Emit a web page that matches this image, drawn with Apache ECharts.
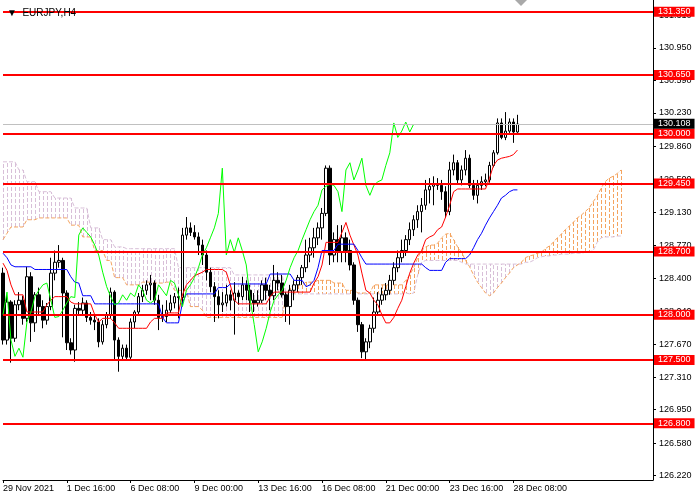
<!DOCTYPE html>
<html>
<head>
<meta charset="utf-8">
<script src="https://cdn.jsdelivr.net/npm/echarts@6/dist/echarts.min.js"></script>
<style>
  html, body {margin: 0; padding: 0; background: #fff;}
  #chart {width: 700px; height: 500px;}
</style>
</head>
<body>
<div id="chart"></div>
<script>
// EURJPY H4, 29 Nov - 28 Dec 2021, one slot = one 4h bar
var tickLabels = ['29 Nov 2021', '1 Dec 16:00', '6 Dec 08:00', '9 Dec 00:00', '13 Dec 16:00',
  '16 Dec 08:00', '21 Dec 00:00', '23 Dec 16:00', '28 Dec 08:00'];
var barsPerTick = 16;
var slotCount = 164;

var priceTicks = [126.22, 126.58, 126.95, 127.31, 127.67, 128.04, 128.40, 128.77, 129.13,
  129.50, 129.86, 130.23, 130.59, 130.95, 131.31];
var levels = [131.35, 130.65, 130.00, 129.45, 128.70, 128.00, 127.50, 126.80];
var lastPrice = 130.108;
var priceMin = 126.173, priceMax = 131.479;

var open = [128.46,127.72,128.14,127.74,128.11,128.16,127.96,128.42,127.91,128.22,
  128.09,127.94,128.09,128.46,128.58,128.60,128.24,127.69,127.61,128.07,
  128.05,128.13,127.97,127.94,127.92,127.70,127.89,128.00,128.25,127.72,
  127.54,127.63,127.53,127.92,128.03,128.20,128.27,128.33,128.35,128.16,
  127.97,127.98,128.05,128.13,128.20,128.19,128.88,128.96,128.91,128.86,
  128.77,128.66,128.47,128.31,128.20,128.11,128.13,128.22,128.16,128.24,
  128.20,128.33,128.27,128.16,128.13,128.16,128.33,128.27,128.21,128.38,
  128.35,128.22,128.09,128.27,128.33,128.41,128.52,128.66,128.74,128.85,
  128.96,129.12,129.62,128.66,128.83,128.69,128.85,128.71,128.55,128.16,
  127.89,127.59,127.70,127.85,128.03,128.16,128.22,128.27,128.38,128.52,
  128.63,128.71,128.83,128.94,129.05,129.14,129.21,129.38,129.42,129.44,
  129.43,129.36,129.14,129.60,129.68,129.49,129.60,129.73,129.43,129.32,
  129.43,129.47,129.49,129.65,129.79,130.12,129.96,130.03,130.13,130.02];
var high = [128.52,128.22,128.16,128.16,128.25,128.21,128.53,128.47,128.25,128.30,
  128.16,128.13,128.63,128.71,128.77,128.63,128.27,127.74,128.11,128.14,
  128.19,128.16,128.03,128.00,127.96,127.94,128.03,128.30,128.27,127.75,
  127.67,127.67,127.96,128.05,128.24,128.33,128.38,128.44,128.38,128.22,
  128.11,128.16,128.22,128.24,128.30,128.96,129.08,129.02,128.99,128.91,
  128.83,128.71,128.52,128.36,128.27,128.25,128.33,128.27,128.36,128.27,
  128.42,128.38,128.33,128.24,128.27,128.38,128.41,128.33,128.55,128.47,
  128.44,128.25,128.33,128.38,128.44,128.55,128.83,128.85,128.96,129.02,
  129.18,129.65,129.65,128.91,128.99,128.99,128.91,128.83,128.58,128.19,
  127.92,127.74,127.89,128.19,128.25,128.30,128.35,128.44,128.58,128.71,
  128.83,128.88,129.02,129.10,129.21,129.29,129.49,129.51,129.53,129.51,
  129.49,129.42,129.69,129.77,129.71,129.65,129.82,129.77,129.49,129.49,
  129.53,129.56,129.69,129.82,130.17,130.17,130.24,130.17,130.17,130.21];
var low = [127.67,127.67,127.47,127.70,128.05,127.89,127.92,127.70,127.81,128.00,
  127.85,127.89,128.05,128.38,128.52,127.75,127.61,127.56,127.48,128.00,
  127.99,127.92,127.89,127.83,127.64,127.67,127.85,127.96,127.50,127.37,
  127.50,127.50,127.50,127.85,128.00,128.14,128.22,128.16,128.11,127.83,
  127.92,127.92,128.02,128.07,127.96,128.11,128.83,128.87,128.83,128.66,
  128.55,128.38,128.25,127.92,127.96,128.03,128.09,128.05,127.78,128.11,
  128.16,128.16,128.03,128.03,128.09,128.13,128.16,128.05,128.16,128.27,
  128.19,127.92,127.89,128.16,128.25,128.33,128.47,128.58,128.63,128.77,
  128.83,129.09,128.55,128.58,128.58,128.58,128.58,128.49,128.11,127.81,
  127.52,127.50,127.63,127.80,128.00,128.11,128.16,128.22,128.33,128.47,
  128.58,128.65,128.77,128.87,128.96,128.91,129.16,129.23,129.21,129.38,
  129.27,129.07,129.10,129.54,129.44,129.43,129.54,129.40,129.27,129.23,
  129.38,129.42,129.46,129.63,129.77,129.94,129.93,130.01,129.90,130.01];
var close = [127.72,128.14,127.74,128.11,128.16,127.96,128.42,127.91,128.22,128.09,
  127.94,128.09,128.46,128.58,128.60,128.24,127.69,127.61,128.07,128.05,
  128.13,127.97,127.94,127.92,127.70,127.89,128.00,128.25,127.72,127.54,
  127.63,127.53,127.92,128.03,128.20,128.27,128.33,128.35,128.16,127.97,
  127.98,128.05,128.13,128.20,128.19,128.88,128.96,128.91,128.86,128.77,
  128.66,128.47,128.31,128.20,128.11,128.13,128.22,128.16,128.24,128.20,
  128.33,128.27,128.16,128.13,128.16,128.33,128.27,128.21,128.38,128.35,
  128.22,128.09,128.27,128.33,128.41,128.52,128.66,128.74,128.85,128.96,
  129.12,129.62,128.66,128.83,128.69,128.85,128.71,128.55,128.16,127.89,
  127.59,127.70,127.85,128.03,128.16,128.22,128.27,128.38,128.52,128.63,
  128.71,128.83,128.94,129.05,129.14,129.21,129.38,129.42,129.44,129.43,
  129.36,129.14,129.60,129.68,129.49,129.60,129.73,129.43,129.32,129.43,
  129.47,129.49,129.65,129.79,130.12,129.96,130.03,130.13,130.02,130.108];

// Ichimoku
var tenkan = [128.57,128.49,128.33,128.22,128.22,128.22,128.03,128.03,128.03,128.03,
  128.03,128.11,128.16,128.20,128.20,128.20,128.20,128.14,128.12,128.12,
  128.12,128.12,128.12,128.00,127.92,127.96,127.96,127.96,127.91,127.85,
  127.85,127.85,127.85,127.85,127.85,127.85,127.85,127.92,127.96,127.96,
  127.96,128.02,128.02,128.02,128.02,128.22,128.33,128.38,128.43,128.45,
  128.47,128.50,128.50,128.50,128.50,128.50,128.47,128.33,128.16,128.12,
  128.12,128.12,128.12,128.12,128.12,128.12,128.12,128.20,128.25,128.25,
  128.25,128.25,128.25,128.25,128.25,128.25,128.25,128.25,128.35,128.42,
  128.55,128.80,128.80,128.80,128.80,128.91,129.02,128.88,128.77,128.66,
  128.46,128.27,128.24,128.16,128.11,128.00,127.91,127.91,127.97,128.07,
  128.16,128.31,128.46,128.57,128.66,128.71,128.83,128.86,128.88,128.94,
  128.97,129.08,129.21,129.36,129.39,129.39,129.39,129.39,129.39,129.39,
  129.39,129.39,129.51,129.65,129.71,129.73,129.74,129.75,129.77,129.82];
var kijun = [128.68,128.63,128.55,128.53,128.53,128.53,128.53,128.53,128.50,128.50,
  128.50,128.50,128.50,128.50,128.50,128.50,128.50,128.42,128.36,128.35,
  128.21,128.21,128.21,128.12,128.12,128.12,128.12,128.12,128.12,128.12,
  128.12,128.12,128.12,128.12,128.12,128.12,128.12,128.12,128.12,128.12,
  127.97,127.91,127.91,127.91,127.91,128.13,128.23,128.23,128.23,128.23,
  128.23,128.23,128.23,128.23,128.30,128.30,128.30,128.34,128.34,128.34,
  128.34,128.34,128.34,128.34,128.34,128.34,128.34,128.45,128.45,128.45,
  128.45,128.45,128.45,128.38,128.38,128.38,128.31,128.33,128.38,128.52,
  128.71,128.71,128.71,128.71,128.78,128.78,128.78,128.78,128.78,128.71,
  128.63,128.56,128.56,128.56,128.56,128.56,128.56,128.56,128.56,128.56,
  128.56,128.56,128.56,128.56,128.56,128.56,128.52,128.49,128.49,128.49,
  128.49,128.58,128.62,128.62,128.62,128.62,128.62,128.66,128.74,128.83,
  128.90,128.99,129.07,129.14,129.21,129.29,129.32,129.36,129.38,129.38];
var spanA = [128.83,128.90,128.97,128.97,128.97,128.97,129.05,129.05,129.05,129.07,
  129.07,129.07,129.07,129.07,129.07,129.07,129.07,128.99,128.99,128.99,
  128.86,128.86,128.86,128.71,128.71,128.71,128.60,128.60,128.41,128.41,
  128.41,128.33,128.33,128.33,128.33,128.36,128.36,128.36,128.35,128.35,
  128.35,128.36,128.36,128.27,128.27,128.27,128.27,128.09,128.09,128.09,
  128.05,127.97,127.97,127.97,127.97,127.97,127.97,127.97,127.97,127.97,
  127.97,127.97,127.97,127.97,127.97,127.97,127.97,127.97,127.97,127.97,
  127.97,128.22,128.30,128.33,128.33,128.33,128.36,128.36,128.36,128.38,
  128.38,128.38,128.38,128.35,128.35,128.35,128.27,128.27,128.27,128.24,
  128.24,128.24,128.24,128.33,128.33,128.33,128.33,128.33,128.33,128.33,
  128.33,128.38,128.44,128.52,128.63,128.71,128.75,128.77,128.77,128.79,
  128.85,128.89,128.90,128.83,128.75,128.69,128.60,128.53,128.44,128.36,
  128.30,128.24,128.21,128.24,128.30,128.35,128.41,128.46,128.52,128.55,
  128.58,128.63,128.65,128.66,128.68,128.69,128.73,128.76,128.80,128.85,
  128.89,128.94,128.98,129.02,129.07,129.10,129.14,129.18,129.25,129.31,
  129.40,129.47,129.51,129.53,129.56,129.60];
var spanB = [129.69,129.69,129.69,129.69,129.60,129.60,129.47,129.47,129.47,129.36,
  129.36,129.36,129.36,129.29,129.29,129.29,129.29,129.29,129.18,129.18,
  129.18,129.18,128.96,128.96,128.96,128.83,128.83,128.83,128.75,128.75,
  128.75,128.73,128.73,128.73,128.73,128.73,128.73,128.73,128.73,128.73,
  128.73,128.73,128.73,128.73,128.52,128.52,128.52,128.52,128.52,128.52,
  128.52,128.52,128.52,128.52,128.52,128.52,128.52,128.52,128.44,128.44,
  128.44,128.44,128.44,128.44,128.44,128.44,128.44,128.44,128.44,128.44,
  128.44,128.23,128.23,128.23,128.23,128.23,128.23,128.23,128.23,128.23,
  128.23,128.23,128.23,128.23,128.23,128.23,128.23,128.23,128.23,128.23,
  128.23,128.23,128.23,128.23,128.23,128.23,128.23,128.23,128.23,128.23,
  128.23,128.24,128.23,128.24,128.44,128.58,128.60,128.60,128.60,128.60,
  128.60,128.60,128.60,128.60,128.60,128.58,128.56,128.56,128.56,128.56,
  128.56,128.56,128.56,128.56,128.56,128.56,128.56,128.56,128.56,128.56,
  128.56,128.58,128.58,128.60,128.63,128.64,128.65,128.65,128.66,128.66,
  128.67,128.67,128.67,128.68,128.68,128.68,128.69,128.69,128.71,128.80,
  128.85,128.86,128.86,128.86,128.87,128.87];
var chikouShift = 26;

var FONT = 'Liberation Sans';
var slots = [];
for (var i = 0; i < slotCount; i++) slots.push(i);

var candles = open.map(function (o, i) { return [o, close[i], low[i], high[i]]; });
var chikou = close.slice(chikouShift);
var cloud = spanA.map(function (a, i) { return [i, a, spanB[i]]; });

function isTick(idx) { return idx % barsPerTick === 0 && idx / barsPerTick < tickLabels.length; }

var levelLines = levels.map(function (v) {
  return {
    name: v.toFixed(3),
    yAxis: v,
    lineStyle: {color: '#ff0000', width: 2, type: 'solid'},
    label: {backgroundColor: '#ff0000', color: '#fff'}
  };
});
levelLines.push({
  name: lastPrice.toFixed(3),
  yAxis: lastPrice,
  lineStyle: {color: '#c0c0c0', width: 1, type: 'solid'},
  label: {backgroundColor: '#000', color: '#fff'}
});

var chart = echarts.init(document.getElementById('chart'));
chart.setOption({
  animation: false,
  backgroundColor: '#fff',
  title: {
    text: '\u25BC  EURJPY,H4',
    left: 2,
    top: 3,
    textStyle: {fontSize: 10, fontWeight: 'normal', color: '#000', fontFamily: FONT}
  },
  graphic: [{
    type: 'polygon',
    shape: {points: [[515, 0], [527, 0], [521, 6]]},
    style: {fill: '#a9a9a9'}
  }],
  grid: {left: 0, right: 47, top: 0, bottom: 20},
  xAxis: {
    type: 'category',
    data: slots,
    boundaryGap: false,
    axisLine: {lineStyle: {color: '#000', width: 1}},
    axisTick: {interval: isTick, length: 3, lineStyle: {color: '#000'}},
    axisLabel: {
      interval: isTick,
      formatter: function (v, idx) { return tickLabels[idx / barsPerTick]; },
      align: 'left',
      margin: 4,
      color: '#000',
      fontSize: 9,
      fontFamily: FONT
    },
    splitLine: {show: false}
  },
  yAxis: {
    type: 'value',
    position: 'right',
    min: priceMin,
    max: priceMax,
    axisLine: {show: true, lineStyle: {color: '#000', width: 1}},
    axisTick: {show: true, customValues: priceTicks, length: 3, lineStyle: {color: '#000'}},
    axisLabel: {
      customValues: priceTicks,
      formatter: function (v) { return v.toFixed(3); },
      margin: 6,
      color: '#000',
      fontSize: 9,
      fontFamily: FONT
    },
    splitLine: {show: false}
  },
  series: [
    {
      // cloud hatching between span A and span B
      type: 'custom',
      z: 1,
      clip: true,
      encode: {x: 0, y: [1, 2]},
      data: cloud,
      renderItem: function (params, api) {
        var a = api.value(1), b = api.value(2);
        var p1 = api.coord([api.value(0), a]);
        var p2 = api.coord([api.value(0), b]);
        var x = Math.round(p1[0]) + 0.5;
        return {
          type: 'line',
          shape: {x1: x, y1: Math.round(p1[1]), x2: x, y2: Math.round(p2[1])},
          style: {stroke: a >= b ? '#f4a460' : '#d8bfd8', lineWidth: 1, lineDash: [4, 2]}
        };
      }
    },
    {
      type: 'line', data: spanA, z: 2, symbol: 'none',
      lineStyle: {color: '#f4a460', width: 1, type: [4, 2]}
    },
    {
      type: 'line', data: spanB, z: 2, symbol: 'none',
      lineStyle: {color: '#d8bfd8', width: 1, type: [4, 2]}
    },
    {
      type: 'candlestick',
      z: 3,
      barWidth: 3,
      data: candles,
      itemStyle: {
        color: '#fff', color0: '#000',
        borderColor: '#000', borderColor0: '#000', borderWidth: 1
      }
    },
    {type: 'line', data: tenkan, z: 4, symbol: 'none', lineStyle: {color: '#ff0000', width: 1}},
    {type: 'line', data: kijun, z: 4, symbol: 'none', lineStyle: {color: '#0000ff', width: 1}},
    {type: 'line', data: chikou, z: 4, symbol: 'none', lineStyle: {color: '#00ff00', width: 1}},
    {
      type: 'line',
      data: [],
      z: 5,
      markLine: {
        silent: true,
        symbol: ['none', 'none'],
        data: levelLines,
        label: {
          show: true,
          position: 'end',
          distance: 1,
          formatter: '{b}',
          fontSize: 9,
          fontFamily: FONT,
          lineHeight: 10,
          padding: [0, 4, 0, 4]
        }
      }
    }
  ]
});
</script>
</body>
</html>
